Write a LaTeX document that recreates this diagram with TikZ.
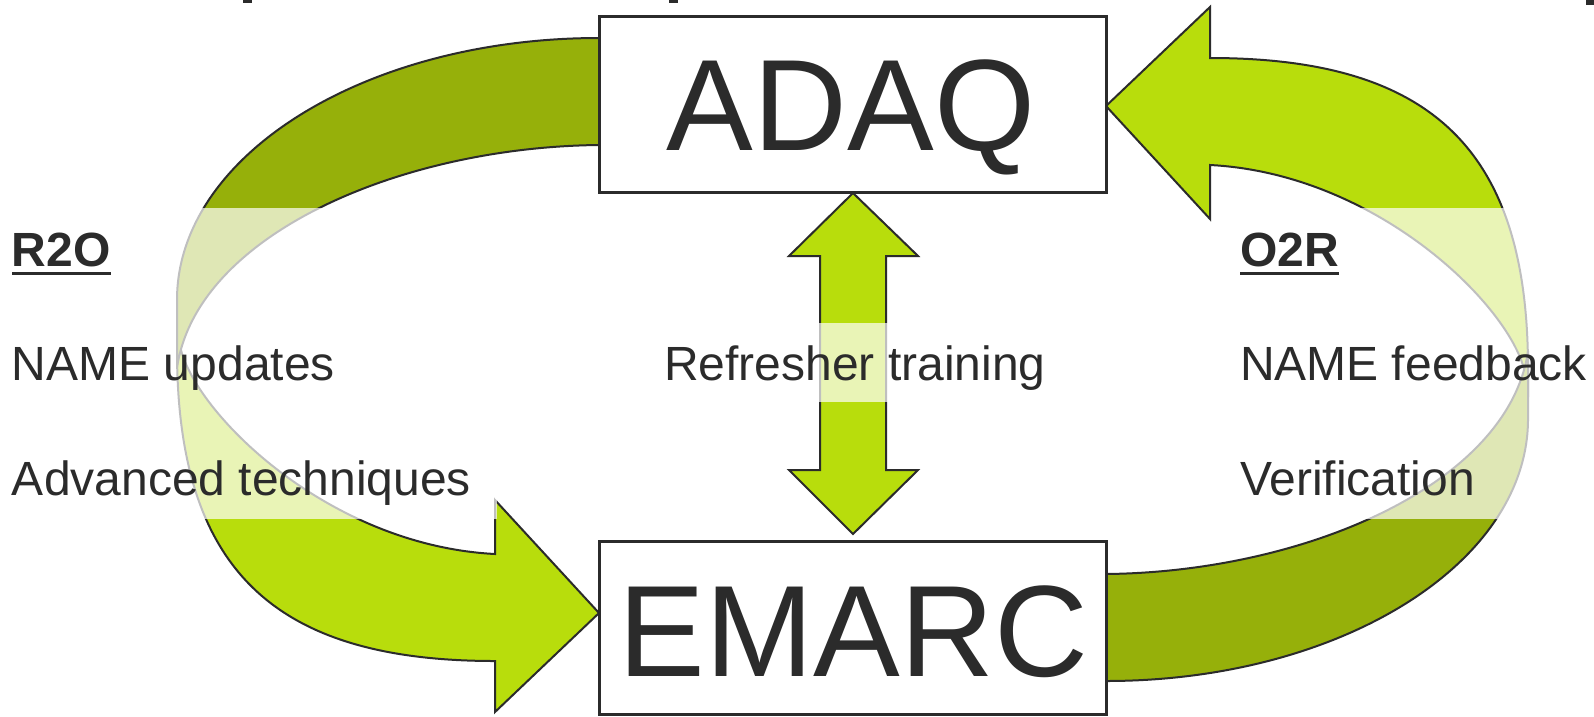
\documentclass[tikz,border=0pt]{standalone}
\usepackage{fontspec}
\setmainfont{Liberation Sans}
\definecolor{inkc}{HTML}{2B2B2B}
\definecolor{darkarrow}{HTML}{96B00A}
\definecolor{lightarrow}{HTML}{B8DD0C}
\newcommand{\loopdarkpath}{(610,38) -- (599,38) .. controls (366,38) and (177,155) .. (177,300) -- (177,368) .. controls (196,235) and (400,147) .. (599,145) -- (610,145) -- cycle}
\newcommand{\looplightpath}{(177,330) -- (177,350) .. controls (177,568) and (272,661) .. (495,661) -- (495,712) -- (599,613) -- (495,500) -- (495,554) .. controls (320,545) and (182,400) .. (179,338) -- cycle}
\tikzset{
  darkshape/.style={fill=darkarrow, draw=inkc, line width=2pt, line join=miter},
  lightshape/.style={fill=lightarrow, draw=inkc, line width=2pt, line join=miter},
  boxnode/.style={draw=inkc, line width=3pt, fill=white, inner sep=0pt, outer sep=0pt},
  bigtxt/.style={font=\fontsize{130}{150}\selectfont, text=inkc, inner sep=0pt, outer sep=0pt, anchor=base},
  smalltxt/.style={font=\fontsize{48}{58}\selectfont, text=inkc, inner sep=0pt, outer sep=0pt, anchor=base west},
  veil/.style={fill=white, fill opacity=0.7}
}
\begin{document}
\begin{tikzpicture}[x=1pt,y=-1pt]
\useasboundingbox (0,0) rectangle (1594,716);
\fill[white] (0,0) rectangle (1594,716);
% cut-off title descenders at the top edge
\fill[inkc] (243,0) rectangle (252,3);
\fill[inkc] (669,0) rectangle (678,3);
\fill[inkc] (1586,0) rectangle (1594,5);
% left loop (R2O)
\draw[lightshape] \looplightpath;
\draw[darkshape] \loopdarkpath;
% right loop (O2R): the left loop turned half round
\begin{scope}[rotate around={180:(852.5,359.5)}]
  \draw[lightshape] \looplightpath;
  \draw[darkshape] \loopdarkpath;
\end{scope}
% central double arrow
\draw[lightshape] (853,193) -- (918,256) -- (886,256) -- (886,470) -- (918,470)
  -- (853,534) -- (789,470) -- (820,470) -- (820,256) -- (789,256) -- cycle;
% boxes
\node[boxnode, minimum width=507pt, minimum height=176pt] (adaq) at (852.5,104) {};
\node[boxnode, minimum width=507pt, minimum height=173pt] (emarc) at (852.5,627.5) {};
\node[bigtxt] (adaqtxt) at (851,150) {ADAQ};
\node[bigtxt] (emarctxt) at (853.5,676) {EMARC};
% translucent text boxes
\fill[veil] (0,208) rectangle (497,519);
\fill[veil] (1230,208) rectangle (1594,519);
\fill[veil] (664,323) rectangle (1042,402);
% texts
\node[smalltxt, font=\fontsize{48}{58}\selectfont\bfseries] (r2o) at (12,266) {R2O};
\fill[inkc] ([yshift=-6pt]r2o.base west) rectangle ([yshift=-9pt]r2o.base east);
\node[smalltxt] (nameupd) at (12,380) {NAME updates};
\node[smalltxt] (advtech) at (12,495) {Advanced techniques};
\node[smalltxt] (refresh) at (664,380) {Refresher training};
\node[smalltxt, font=\fontsize{48}{58}\selectfont\bfseries] (o2r) at (1240,266) {O2R};
\fill[inkc] ([yshift=-6pt]o2r.base west) rectangle ([yshift=-9pt]o2r.base east);
\node[smalltxt] (namefb) at (1240,380) {NAME feedback};
\node[smalltxt] (verif) at (1240,495) {Verification};
\end{tikzpicture}
\end{document}
